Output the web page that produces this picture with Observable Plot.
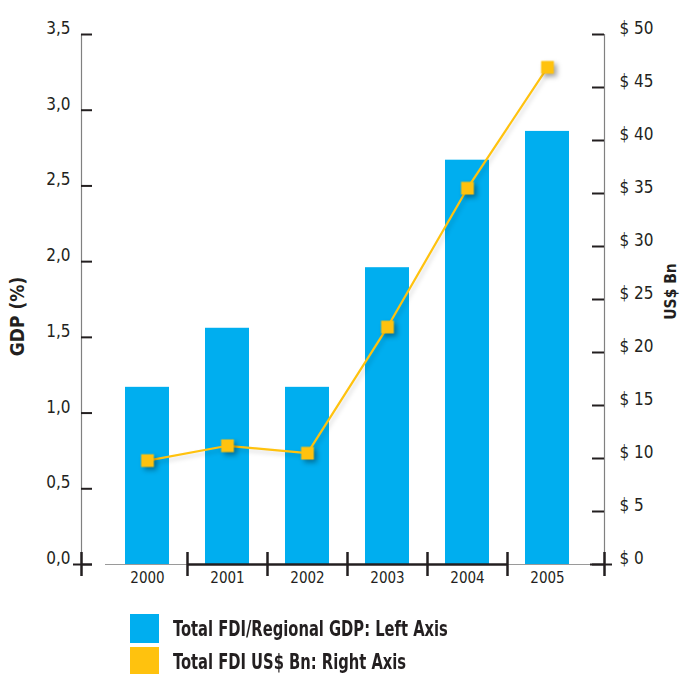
<!DOCTYPE html>
<html><head><meta charset="utf-8">
<script src="https://cdn.jsdelivr.net/npm/d3@7"></script>
<script src="https://cdn.jsdelivr.net/npm/@observablehq/plot@0.6"></script>
<style>
body{margin:0;background:#fff;}
#chart{width:686px;height:674px;position:relative;overflow:hidden;font-family:"Liberation Sans Narrow","DejaVu Sans Condensed",sans-serif;}
#chart svg{position:absolute;left:0;top:0;}
.legend{position:absolute;left:130px;top:614px}
.item{display:flex;align-items:center;height:29px;margin-bottom:4px}
.sw{width:29px;height:29px;margin-right:14px;flex:none}
.lab{font-weight:bold;font-size:21px;color:#231f20;white-space:nowrap;transform:scaleX(0.78);transform-origin:left center}
</style></head><body><div id="chart"></div>
<script>
const years = ["2000","2001","2002","2003","2004","2005"];
const gdpShare = [1.17, 1.56, 1.17, 1.96, 2.67, 2.86];
const fdiBn = [9.8, 11.2, 10.5, 22.4, 35.5, 46.9];
const leftTicks = [0, 0.5, 1, 1.5, 2, 2.5, 3, 3.5];
const rightTicks = [0, 5, 10, 15, 20, 25, 30, 35, 40, 45, 50];
const legendLabels = ["Total FDI/Regional GDP: Left Axis", "Total FDI US$ Bn: Right Axis"];
const leftTitle = "GDP (%)";
const rightTitle = "US$ Bn";

const blue = "#00AEEF", yellow = "#FFC20E", ink = "#231f20";
const leftMax = 3.5, rightMax = 50;
const toLeft = v => v * leftMax / rightMax;
const fmtLeft = d => d.toFixed(1).replace(".", ",");
const fmtRight = d => "$ " + d;

const rows = years.map((year, i) => ({year, gdp: gdpShare[i], fdi: toLeft(fdiBn[i])}));

const W = 686, H = 600, mL = 81, mR = 82, mT = 34, mB = 36;
const frameW = W - mL - mR, frameH = H - mT - mB;
const xInL = 26, xInR = 17, pIn = 0.45, pOut = 0.225;
const step = (frameW - xInL - xInR) / years.length;
const edgeOff = step * (pOut + (1 - pIn) / 2);
const leftOff = xInL + edgeOff, rightOff = xInR + edgeOff;
const font = '"Liberation Sans Narrow","DejaVu Sans Condensed",sans-serif';

const plot = Plot.plot({
  width: W, height: H, marginLeft: mL, marginRight: mR, marginTop: mT, marginBottom: mB,
  style: {fontFamily: font, fontSize: "17px", color: ink, background: "white", overflow: "visible"},
  x: {domain: years, axis: null, insetLeft: xInL, insetRight: xInR, paddingInner: pIn, paddingOuter: pOut},
  y: {domain: [0, leftMax], axis: null},
  marks: [
    Plot.barY(rows, {x: "year", y: "gdp", fill: blue}),
    // axis lines
    Plot.ruleX([years[0]], {dx: -leftOff, stroke: "#808080", strokeWidth: 1.2}),
    Plot.ruleX([years[years.length - 1]], {dx: rightOff, stroke: "#808080", strokeWidth: 1.2}),
    // baseline
    Plot.ruleY([0], {insetLeft: xInL - 2, insetRight: 4, stroke: "#9a9a9a", strokeWidth: 1.2}),
    Plot.ruleY([0], {insetLeft: xInL + step, insetRight: xInR + step, stroke: ink, strokeWidth: 2.5}),
    // left ticks
    Plot.ruleY(leftTicks, {insetRight: frameW - 11, stroke: ink, strokeWidth: 2}),
    Plot.ruleY([0], {insetLeft: -8, insetRight: frameW - 11, stroke: ink, strokeWidth: 2}),
    // right ticks
    Plot.ruleY(rightTicks.map(toLeft), {insetLeft: frameW - 12, stroke: ink, strokeWidth: 2}),
    Plot.ruleY([0], {insetLeft: frameW - 14, insetRight: -8, stroke: ink, strokeWidth: 2}),
    // category boundary ticks and axis crosses
    Plot.ruleX(years.slice(1), {dx: -step / 2, insetTop: frameH - 12, insetBottom: -12, stroke: ink, strokeWidth: 2.5}),
    Plot.ruleX([years[0]], {dx: -leftOff, insetTop: frameH - 12, insetBottom: -12, stroke: ink, strokeWidth: 2.5}),
    Plot.ruleX([years[years.length - 1]], {dx: rightOff, insetTop: frameH - 12, insetBottom: -12, stroke: ink, strokeWidth: 2.5}),
    // line series
    Plot.line(rows, {x: "year", y: "fdi", stroke: yellow, strokeWidth: 2.2}),
    Plot.dot(rows, {x: "year", y: "fdi", symbol: "square", r: 7.2, fill: yellow, stroke: "none"}),
    // tick labels
    Plot.text(leftTicks, {y: d => d, text: fmtLeft, frameAnchor: "left", textAnchor: "end", dx: -11, dy: -6, fontSize: 17, fill: ink}),
    Plot.text(rightTicks, {y: toLeft, text: fmtRight, frameAnchor: "right", textAnchor: "start", dx: 15, dy: -6, fontSize: 17, fill: ink}),
    Plot.text(years, {x: d => d, text: d => d, frameAnchor: "bottom", dy: 18, fontSize: 15, fill: ink}),
    // axis titles
    Plot.text([leftTitle], {text: d => d, frameAnchor: "left", textAnchor: "middle", dx: -63.5, dy: 17, rotate: -90, fontWeight: "bold", fontSize: 19, fill: ink}),
    Plot.text([rightTitle], {text: d => d, frameAnchor: "right", textAnchor: "middle", dx: 67, dy: -8, rotate: -90, fontWeight: "bold", fontSize: 15.5, fill: ink})
  ]
});

d3.select(plot).selectAll('g[aria-label="dot"]').style("filter", "drop-shadow(3px 3px 2.5px rgba(0,0,0,0.35))");
d3.select(plot).selectAll('g[aria-label="line"]').style("filter", "drop-shadow(2px 3px 2px rgba(0,0,0,0.15))");

const chart = document.getElementById("chart");
chart.appendChild(plot);

const legend = document.createElement("div");
legend.className = "legend";
[blue, yellow].forEach((c, i) => {
  const item = document.createElement("div");
  item.className = "item";
  const sw = document.createElement("div");
  sw.className = "sw";
  sw.style.background = c;
  const lab = document.createElement("div");
  lab.className = "lab";
  lab.textContent = legendLabels[i];
  item.appendChild(sw); item.appendChild(lab);
  legend.appendChild(item);
});
chart.appendChild(legend);
</script></body></html>
